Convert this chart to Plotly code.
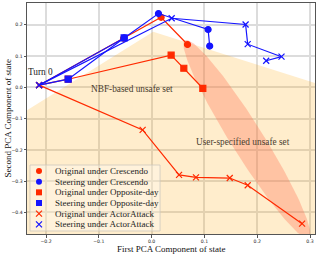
import numpy as np
import plotly.graph_objects as go

# ---------------- data ----------------
start = (-0.213, 0.007)

orig_cres_x = [start[0], -0.053, 0.018, 0.068]
orig_cres_y = [start[1], 0.157, 0.224, 0.137]

steer_cres_x = [start[0], -0.052, 0.013, 0.107, 0.110]
steer_cres_y = [start[1], 0.158, 0.236, 0.185, 0.132]

orig_opp_x = [start[0], -0.158, 0.037, 0.061, 0.097]
orig_opp_y = [start[1], 0.026, 0.103, 0.061, -0.003]

steer_opp_x = [start[0], -0.158, -0.052]
steer_opp_y = [start[1], 0.026, 0.158]

orig_actor_x = [start[0], -0.017, 0.052, 0.084, 0.148, 0.182, 0.285]
orig_actor_y = [start[1], -0.136, -0.280, -0.288, -0.290, -0.313, -0.436]

steer_actor_x = [start[0], 0.038, 0.178, 0.182, 0.246, 0.217]
steer_actor_y = [start[1], 0.221, 0.201, 0.138, 0.098, 0.085]

series_names = [
    "Original under Crescendo",
    "Steering under Crescendo",
    "Original under Opposite-day",
    "Steering under Opposite-day",
    "Original under ActorAttack",
    "Steering under ActorAttack",
]

# NBF-based unsafe set boundary (left edge, peak, right edge)
nbf_x = [-0.236, 0.003, 0.3095]
nbf_y = [-0.073, 0.178, 0.014]

# user-specified unsafe set (ellipse tips along major axis, semi-minor in px)
ell_tip1 = (0.063, 0.151)
ell_tip2 = (0.298, -0.482)
ell_semi_minor_px = 16

x_ticks = [-0.2, -0.1, 0.0, 0.1, 0.2, 0.3]
y_ticks = [-0.4, -0.3, -0.2, -0.1, 0.0, 0.1, 0.2]

# ---------------- layout constants ----------------
W, H = 319, 254
ML, MR, MT, MB = 27, 4, 3, 20
PW, PH = W - ML - MR, H - MT - MB
XR = [-0.236, -0.236 + PW / 528.0]
YR = [-0.469, -0.469 + PH / 312.7]

RED = "#ff2a00"
BLUE = "#1414ff"
SERIF = "Liberation Serif, Times New Roman, serif"
SANS = "DejaVu Sans, sans-serif"

fig = go.Figure()

# NBF unsafe set polygon
poly_x = nbf_x + [XR[1], XR[0], nbf_x[0]]
poly_y = nbf_y + [YR[0], YR[0], nbf_y[0]]
fig.add_trace(go.Scatter(x=poly_x, y=poly_y, mode="lines", fill="toself",
                         fillcolor="rgba(255,165,0,0.2)", line=dict(width=0),
                         hoverinfo="skip", showlegend=False))

# ellipse computed in pixel space
sx = PW / (XR[1] - XR[0])
sy = PH / (YR[1] - YR[0])
u1, v1 = ell_tip1[0] * sx, ell_tip1[1] * sy
u2, v2 = ell_tip2[0] * sx, ell_tip2[1] * sy
cu, cv = (u1 + u2) / 2, (v1 + v2) / 2
a = np.hypot(u2 - u1, v2 - v1) / 2
ang = np.arctan2(v2 - v1, u2 - u1)
t = np.linspace(0, 2 * np.pi, 200)
eu = cu + a * np.cos(t) * np.cos(ang) - ell_semi_minor_px * np.sin(t) * np.sin(ang)
ev = cv + a * np.cos(t) * np.sin(ang) + ell_semi_minor_px * np.sin(t) * np.cos(ang)
fig.add_trace(go.Scatter(x=eu / sx, y=ev / sy, mode="lines", fill="toself",
                         fillcolor="rgba(255,99,71,0.3)", line=dict(width=0),
                         hoverinfo="skip", showlegend=False))

series = [
    (orig_cres_x, orig_cres_y, RED, "circle"),
    (steer_cres_x, steer_cres_y, BLUE, "circle"),
    (orig_opp_x, orig_opp_y, RED, "square"),
    (steer_opp_x, steer_opp_y, BLUE, "square"),
    (orig_actor_x, orig_actor_y, RED, "x-thin"),
    (steer_actor_x, steer_actor_y, BLUE, "x-thin"),
]


def marker_for(color, sym, size):
    if sym == "x-thin":
        return dict(symbol=sym, size=size, color=color, line=dict(width=1.2, color=color))
    return dict(symbol=sym, size=size, color=color, line=dict(width=0))


for (xs, ys, col, sym), name in zip(series, series_names):
    syms = ["x-thin"] + [sym] * (len(xs) - 1)
    m = marker_for(col, sym, 6)
    m["symbol"] = syms
    m["line"] = dict(width=1.2, color=col)
    fig.add_trace(go.Scatter(x=xs, y=ys, mode="lines+markers", name=name,
                             line=dict(color=col, width=1.2), marker=m,
                             showlegend=False))

# ---------------- manual legend on overlay axes ----------------
box = [0.0104, 0.462, 0.013, 0.2987]
fig.add_trace(go.Scatter(x=[box[0], box[1], box[1], box[0], box[0]],
                         y=[box[2], box[2], box[3], box[3], box[2]],
                         mode="lines", fill="toself", fillcolor="rgba(255,255,255,0.3)",
                         line=dict(color="rgba(205,200,190,1)", width=0.8),
                         xaxis="x2", yaxis="y2", hoverinfo="skip", showlegend=False))
row0 = (MT + PH - 171) / PH
step = 10.67 / PH
lx = (39 - ML) / PW
tx = (53 - ML) / PW
for i, ((xs, ys, col, sym), name) in enumerate(zip(series, series_names)):
    yy = row0 - i * step
    fig.add_trace(go.Scatter(x=[lx], y=[yy], mode="markers",
                             marker=marker_for(col, sym, 6),
                             xaxis="x2", yaxis="y2", hoverinfo="skip", showlegend=False))
    fig.add_annotation(x=tx, y=yy, xref="paper", yref="paper", text=name,
                       showarrow=False, xanchor="left", yanchor="middle",
                       font=dict(family=SERIF, size=9, color="#222"))

# ---------------- text annotations ----------------
fig.add_annotation(x=-0.2098, y=0.048, text="Turn 0", showarrow=False,
                   font=dict(family=SERIF, size=9.3, color="#222"))
fig.add_annotation(x=-0.0377, y=-0.0054, text="NBF-based unsafe set", showarrow=False,
                   font=dict(family=SERIF, size=9.3, color="#4a4030"))
fig.add_annotation(x=0.1737, y=-0.176, text="User-specified unsafe set", showarrow=False,
                   font=dict(family=SERIF, size=9.3, color="#4a4030"))
fig.add_annotation(x=0.5, y=(-14.8) / PH, xref="paper", yref="paper",
                   text="First PCA Component of state", showarrow=False,
                   yanchor="middle", font=dict(family=SERIF, size=9, color="#111"))
fig.add_annotation(x=(7 - ML) / PW, y=0.5, xref="paper", yref="paper",
                   text="Second PCA Component of state", showarrow=False, textangle=-90,
                   xanchor="center", yanchor="middle",
                   font=dict(family=SERIF, size=9, color="#111"))

axis_common = dict(showgrid=True, gridcolor="#dcdcdc", gridwidth=1.5, zeroline=False,
                   showline=True, mirror=True, linecolor="#555", linewidth=1,
                   ticks="outside", ticklen=2.5, tickwidth=0.8, tickcolor="#555",
                   tickfont=dict(family=SANS, size=4.6, color="#222"))


def fmt(v):
    return ("\u2212" if v < 0 else "") + f"{abs(v):.1f}"


fig.update_layout(
    width=W, height=H,
    margin=dict(l=ML, r=MR, t=MT, b=MB, pad=0),
    paper_bgcolor="white", plot_bgcolor="white",
    showlegend=False,
    xaxis=dict(range=XR, tickvals=x_ticks, ticktext=[fmt(v) for v in x_ticks], **axis_common),
    yaxis=dict(range=YR, tickvals=y_ticks, ticktext=[fmt(v) for v in y_ticks], **axis_common),
    xaxis2=dict(range=[0, 1], overlaying="x", visible=False, fixedrange=True),
    yaxis2=dict(range=[0, 1], overlaying="y", visible=False, fixedrange=True),
)

fig.write_html("out.html", config={"displayModeBar": False},
               post_script="document.body.style.margin='0';document.body.style.overflow='hidden';")
